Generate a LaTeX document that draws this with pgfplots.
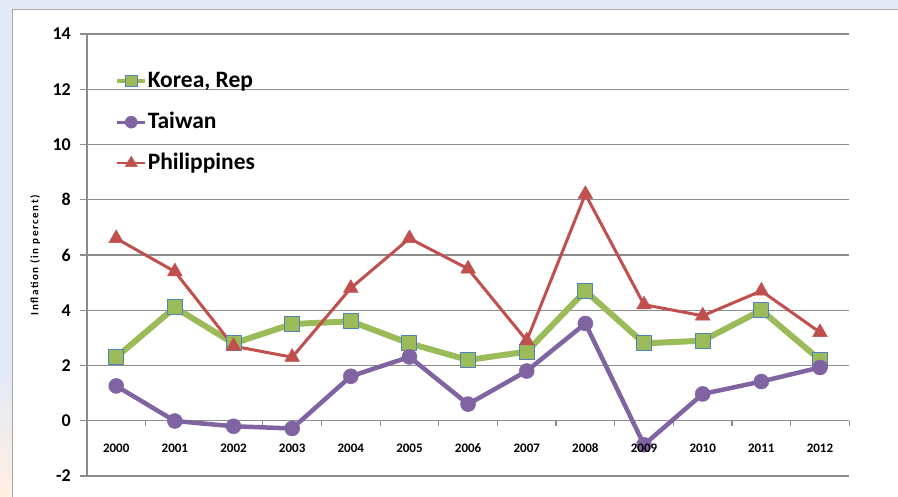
\documentclass[border=0pt]{standalone}
\usepackage{pgfplots}
\pgfplotsset{compat=1.18}
\usepackage{fontspec}
\setmainfont{Carlito}

\definecolor{bgblue}{HTML}{E4E9F6}
\definecolor{framegray}{HTML}{A6A6A6}
\definecolor{gridgray}{HTML}{8C8C8C}
\definecolor{korea}{HTML}{9BBB59}
\definecolor{koreaedge}{HTML}{4F81BD}
\definecolor{taiwan}{HTML}{8064A2}
\definecolor{phil}{HTML}{C0504D}

\pgfplotsset{
  chartframe/.style={
    at={(86.9pt,21pt)}, anchor=south west,
    scale only axis, width=762.4pt, height=442pt,
    xmin=-0.5, xmax=12.5, ymin=-2, ymax=14,
  },
  yearlabels/.style={
    xtick={0,...,12},
    xticklabels={2000,2001,2002,2003,2004,2005,2006,2007,2008,2009,2010,2011,2012},
    xticklabel style={font=\bfseries\fontsize{13}{13}\selectfont, anchor=base, yshift=-30pt},
  },
}

\begin{document}
\begin{tikzpicture}
% page background and chart frame
\path[use as bounding box] (0pt,0pt) rectangle (898pt,497pt);
\fill[bgblue] (0pt,0pt) rectangle (898pt,497pt);
\shade[top color=bgblue, bottom color=orange!12!white] (0pt,0pt) rectangle (13pt,120pt);
\filldraw[fill=white, draw=framegray, line width=1.2pt] (12.5pt,-10pt) rectangle (910pt,487.5pt);

\begin{axis}[
  chartframe,
  axis x line=middle, axis y line=left,
  axis line style={-, draw=gridgray, line width=1.2pt},
  ytick={-2,0,...,14},
  ymajorgrids, grid style={draw=gridgray, line width=1.2pt},
  xtick={0,...,12}, xticklabels={},
  minor xtick={-0.5,0.5,...,12.5},
  major tick length=6.5pt, minor tick length=5pt,
  tick align=outside,
  xtick style={draw=none},
  minor x tick style={draw=gridgray, line width=1.2pt},
  ytick style={draw=gridgray, line width=1.2pt},
  /pgf/number format/assume math mode=true,
  yticklabel style={font=\bfseries\fontsize{18}{18}\selectfont, anchor=east, xshift=-6pt},
  ylabel={Inflation (in percent)},
  ylabel style={font=\bfseries\fontsize{11}{11}\selectfont\addfontfeatures{LetterSpace=14},
    at={(axis description cs:-0.068,0.5)}, anchor=center},
  legend style={at={(axis description cs:0.033,0.922)}, anchor=north west, draw=none, fill=none,
    font=\bfseries\fontsize{23.5}{23.5}\selectfont, row sep=20pt, column sep=0pt,
    nodes={inner sep=0.5pt, text height=16pt, text depth=4pt}},
  legend cell align=left,
  line join=round,
]
\addplot[color=korea, line width=6pt, mark=square*, mark size=7.5pt,
  mark options={fill=korea, draw=koreaedge, line width=1pt},
  legend image code/.code={\draw[mark repeat=2, mark phase=2, line width=4pt, mark size=5.8pt]
    plot coordinates {(0pt,0pt) (14pt,0pt) (28pt,0pt)};}]
  coordinates {(0,2.3) (1,4.1) (2,2.8) (3,3.5) (4,3.6) (5,2.8) (6,2.2) (7,2.5) (8,4.7) (9,2.8) (10,2.9) (11,4.0) (12,2.2)};
\addlegendentry{Korea, Rep}
\addplot[color=taiwan, line width=4.5pt, mark=*, mark size=7.5pt,
  mark options={fill=taiwan, draw=taiwan, line width=0.5pt},
  legend image code/.code={\draw[mark repeat=2, mark phase=2, line width=3pt, mark size=6pt]
    plot coordinates {(0pt,0pt) (14pt,0pt) (28pt,0pt)};}]
  coordinates {(0,1.26) (1,-0.01) (2,-0.2) (3,-0.28) (4,1.61) (5,2.31) (6,0.6) (7,1.8) (8,3.52) (9,-0.87) (10,0.97) (11,1.42) (12,1.93)};
\addlegendentry{Taiwan}
\addplot[color=phil, line width=3pt, mark=triangle*, mark size=8.5pt,
  mark options={fill=phil, draw=phil, line width=0.5pt},
  legend image code/.code={\draw[mark repeat=2, mark phase=2, line width=2.5pt, mark size=7pt]
    plot coordinates {(0pt,0pt) (14pt,0pt) (28pt,0pt)};}]
  coordinates {(0,6.6) (1,5.4) (2,2.7) (3,2.3) (4,4.8) (5,6.6) (6,5.5) (7,2.9) (8,8.2) (9,4.2) (10,3.8) (11,4.7) (12,3.2)};
\addlegendentry{Philippines}
\end{axis}

% year labels, set over the series
\begin{axis}[
  chartframe, yearlabels,
  axis x line=middle, axis y line=none,
  axis line style={draw=none},
  xtick style={draw=none},
  ytick=\empty,
]
\end{axis}
\end{tikzpicture}
\end{document}
